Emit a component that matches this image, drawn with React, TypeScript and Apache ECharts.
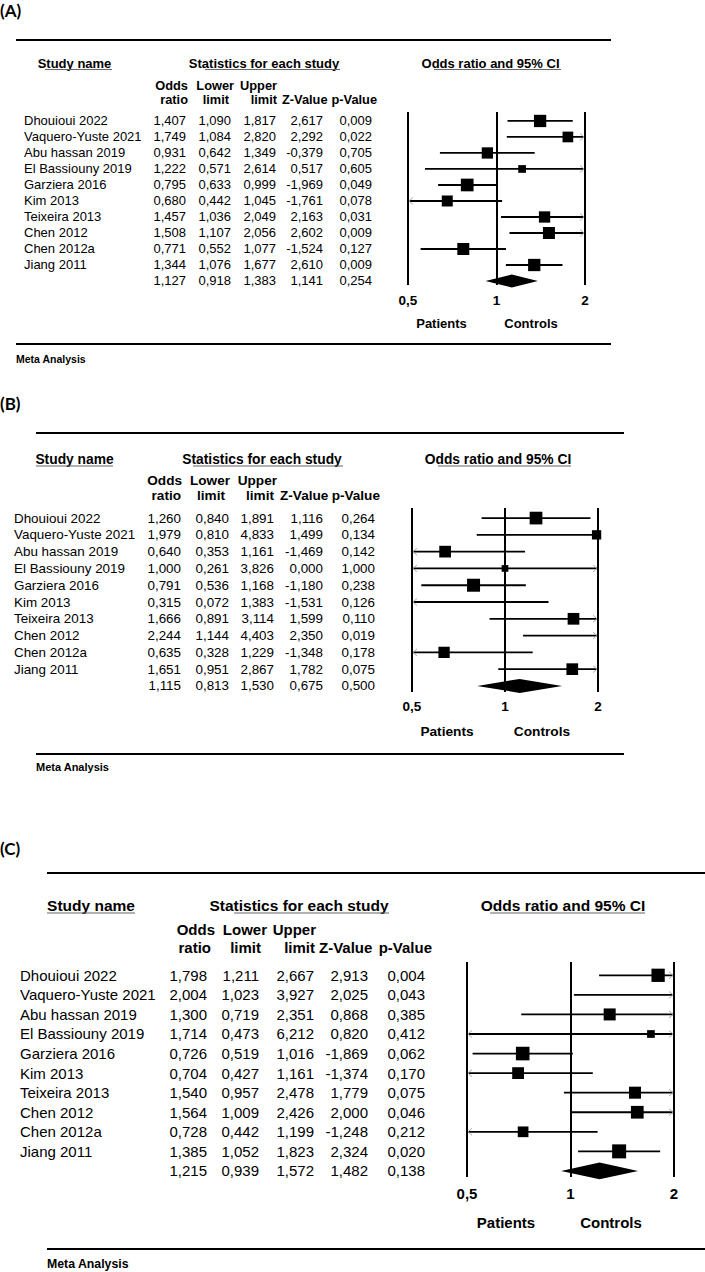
import React, { useEffect, useRef } from "react";
import * as echarts from "echarts";

// ---------------- DATA ----------------
const studyNames = [
  "Dhouioui 2022",
  "Vaquero-Yuste 2021",
  "Abu hassan 2019",
  "El Bassiouny 2019",
  "Garziera 2016",
  "Kim 2013",
  "Teixeira 2013",
  "Chen 2012",
  "Chen 2012a",
  "Jiang 2011",
];

// Panel (A)
const oddsRatioA = [1.407, 1.749, 0.931, 1.222, 0.795, 0.68, 1.457, 1.508, 0.771, 1.344];
const lowerLimitA = [1.09, 1.084, 0.642, 0.571, 0.633, 0.442, 1.036, 1.107, 0.552, 1.076];
const upperLimitA = [1.817, 2.82, 1.349, 2.614, 0.999, 1.045, 2.049, 2.056, 1.077, 1.677];
const zValueA = [2.617, 2.292, -0.379, 0.517, -1.969, -1.761, 2.163, 2.602, -1.524, 2.61];
const pValueA = [0.009, 0.022, 0.705, 0.605, 0.049, 0.078, 0.031, 0.009, 0.127, 0.009];
const weightA = [12.3, 10.7, 11.3, 7.7, 12.7, 11.0, 11.3, 12.0, 12.0, 12.3];
const summaryA = [1.127, 0.918, 1.383, 1.141, 0.254];

// Panel (B)
const oddsRatioB = [1.26, 1.979, 0.64, 1.0, 0.791, 0.315, 1.666, 2.244, 0.635, 1.651];
const lowerLimitB = [0.84, 0.81, 0.353, 0.261, 0.536, 0.072, 0.891, 1.144, 0.328, 0.951];
const upperLimitB = [1.891, 4.833, 1.161, 3.826, 1.168, 1.383, 3.114, 4.403, 1.229, 2.867];
const zValueB = [1.116, 1.499, -1.469, 0.0, -1.18, -1.531, 1.599, 2.35, -1.348, 1.782];
const pValueB = [0.264, 0.134, 0.142, 1.0, 0.238, 0.126, 0.11, 0.019, 0.178, 0.075];
const weightB = [12.7, 9.3, 11.7, 6.7, 13.0, 7.0, 11.7, 9.0, 11.3, 11.7];
const summaryB = [1.115, 0.813, 1.53, 0.675, 0.5];

// Panel (C)
const oddsRatioC = [1.798, 2.004, 1.3, 1.714, 0.726, 0.704, 1.54, 1.564, 0.728, 1.385];
const lowerLimitC = [1.211, 1.023, 0.719, 0.473, 0.519, 0.427, 0.957, 1.009, 0.442, 1.052];
const upperLimitC = [2.667, 3.927, 2.351, 6.212, 1.016, 1.161, 2.478, 2.426, 1.199, 1.823];
const zValueC = [2.913, 2.025, 0.868, 0.82, -1.869, -1.374, 1.779, 2.0, -1.248, 2.324];
const pValueC = [0.004, 0.043, 0.385, 0.412, 0.062, 0.17, 0.075, 0.046, 0.212, 0.02];
const weightC = [13.3, 9.0, 12.0, 7.7, 13.6, 11.8, 12.0, 12.7, 10.7, 14.0];
const summaryC = [1.215, 0.939, 1.572, 1.482, 0.138];

const axisMin = 0.5;
const axisMax = 2;
const panelTags = ["(A)", "(B)", "(C)"];
const columnWords = ["Odds", "ratio", "Lower", "limit", "Upper", "limit", "Z-Value", "p-Value"];
const headerTitles = ["Study name", "Statistics for each study", "Odds ratio and 95% CI"];
const sideLabels = ["Patients", "Controls"];
const footerText = "Meta Analysis";

const panels = [
  { or: oddsRatioA, lo: lowerLimitA, up: upperLimitA, z: zValueA, p: pValueA, w: weightA, s: summaryA },
  { or: oddsRatioB, lo: lowerLimitB, up: upperLimitB, z: zValueB, p: pValueB, w: weightB, s: summaryB },
  { or: oddsRatioC, lo: lowerLimitC, up: upperLimitC, z: zValueC, p: pValueC, w: weightC, s: summaryC },
];

// ---------------- LAYOUT ----------------
const FONT = '"Liberation Sans", Arial, Helvetica, sans-serif';

type ColHead = [number, number, "left" | "right"]; // x, row(1/2), align
const layouts = [
  {
    tagY: 10, x1: 16, x2: 611, topY: 40, botY: 344, metaY: 359, metaFs: 10.5,
    headY: 63, headFs: 13, headCx: [74.5, 264, 490.5], underline: [[45, 112], [205, 340], [434, 561]], ulY: 69.5,
    colY: [85, 99], colFs: 12.8,
    colHeads: [[188, 1, "right"], [188, 2, "right"], [234, 1, "right"], [229, 2, "right"], [277, 1, "right"], [277, 2, "right"], [282, 2, "left"], [377, 2, "right"]] as ColHead[],
    nameX: 24, cols: [186, 231, 276, 323, 372], fs: 13,
    grid: { left: 408, top: 112, width: 177, height: 173 }, yMin: -0.56, yMax: 10.25,
    tickFs: 13.5, tickMargin: 8, legY: 323, legFs: 13, legCx: [441.5, 531], diamondH: 13,
  },
  {
    tagY: 403, x1: 36, x2: 624, topY: 433, botY: 754, metaY: 767, metaFs: 11,
    headY: 459, headFs: 13.8, headCx: [74.5, 262, 498], underline: [[36, 113], [193, 343], [438, 571]], ulY: 466,
    colY: [480, 495], colFs: 13.6,
    colHeads: [[182, 1, "right"], [181, 2, "right"], [230, 1, "right"], [225, 2, "right"], [277, 1, "right"], [274, 2, "right"], [280, 2, "left"], [380, 2, "right"]] as ColHead[],
    nameX: 14, cols: [181, 229, 274, 323, 375], fs: 13.4,
    grid: { left: 412, top: 508, width: 186, height: 184 }, yMin: -0.6, yMax: 10.36,
    tickFs: 13.5, tickMargin: 7.5, legY: 731, legFs: 13.7, legCx: [447, 542], diamondH: 14,
  },
  {
    tagY: 848, x1: 47, x2: 705, topY: 873, botY: 1249, metaY: 1264, metaFs: 12.3,
    headY: 905, headFs: 15.5, headCx: [91, 299, 563], underline: [[47, 135], [234, 389], [490, 645]], ulY: 913,
    colY: [929, 947], colFs: 15,
    colHeads: [[215, 1, "right"], [211, 2, "right"], [267, 1, "right"], [261, 2, "right"], [316, 1, "right"], [315, 2, "right"], [319, 2, "left"], [432, 2, "right"]] as ColHead[],
    nameX: 20, cols: [207, 259, 314, 368, 425], fs: 15,
    grid: { left: 467, top: 962, width: 207, height: 215 }, yMin: -0.68, yMax: 10.31,
    tickFs: 15, tickMargin: 8.5, legY: 1222, legFs: 15, legCx: [506, 611], diamondH: 16.7,
  },
];

const fmt = (v: number) => v.toFixed(3).replace(".", ",");

function textEl(text: string, x: number, y: number, fs: number, align: string, bold: boolean, family = FONT) {
  return {
    type: "text",
    x,
    y,
    silent: true,
    style: {
      text,
      fill: "#000",
      fontSize: fs,
      fontFamily: family,
      fontWeight: bold ? "bold" : "normal",
      align,
      textAlign: align,
      verticalAlign: "middle",
      textVerticalAlign: "middle",
    },
  };
}

function lineEl(x1: number, y1: number, x2: number, y2: number, w: number, color = "#000") {
  return { type: "line", silent: true, shape: { x1, y1, x2, y2 }, style: { stroke: color, lineWidth: w } };
}

function chevron(x: number, y: number, dir: number) {
  return {
    type: "polyline",
    shape: { points: [[x - dir * 4, y - 3.5], [x, y], [x - dir * 4, y + 3.5]] },
    style: { stroke: "#aaaaaa", lineWidth: 1, fill: "none" },
  };
}

function buildOption() {
  const graphics: any[] = [];
  layouts.forEach((L, pi) => {
    graphics.push(textEl(panelTags[pi], 0, L.tagY, 17, "left", true, 'Lato, "Open Sans", sans-serif'));
    graphics.push(lineEl(L.x1, L.topY, L.x2, L.topY, 2));
    headerTitles.forEach((t, k) => {
      graphics.push(textEl(t, L.headCx[k], L.headY, L.headFs, "center", true));
      graphics.push(lineEl(L.underline[k][0], L.ulY, L.underline[k][1], L.ulY, 1.2, "#666"));
    });
    columnWords.forEach((w, k) => {
      const [x, row, align] = L.colHeads[k];
      graphics.push(textEl(w, x, L.colY[row - 1], L.colFs, align, true));
    });
    sideLabels.forEach((t, k) => graphics.push(textEl(t, L.legCx[k], L.legY, L.legFs, "center", true)));
    graphics.push(lineEl(L.x1, L.botY, L.x2, L.botY, 2.2));
    graphics.push(textEl(footerText, L.x1, L.metaY, L.metaFs, "left", true));
  });

  const grids = layouts.map((L) => ({ ...L.grid, containLabel: false, outerBoundsMode: "none" }));
  const xAxes = layouts.map((L, i) => ({
    type: "log",
    logBase: 2,
    min: axisMin,
    max: axisMax,
    interval: 1,
    gridIndex: i,
    axisLine: { show: false },
    axisTick: { show: false },
    splitLine: { show: true, showMinLine: true, showMaxLine: true, lineStyle: { color: "#000", width: 2 } },
    axisLabel: {
      fontSize: L.tickFs,
      fontWeight: "bold",
      fontFamily: FONT,
      color: "#000",
      margin: L.tickMargin,
      formatter: (v: number) => String(+v.toFixed(3)).replace(".", ","),
    },
  }));
  const yAxes = layouts.map((L, i) => ({
    type: "value",
    gridIndex: i,
    min: L.yMin,
    max: L.yMax,
    inverse: true,
    show: false,
    splitLine: { show: false },
  }));

  const series: any[] = [];
  panels.forEach((P, pi) => {
    const L = layouts[pi];
    const rows = studyNames.length;
    const forestData = [...P.or, P.s[0]].map((v, i) => [v, i]);
    series.push({
      type: "custom",
      name: "forest" + pi,
      xAxisIndex: pi,
      yAxisIndex: pi,
      clip: false,
      silent: true,
      data: forestData,
      encode: { x: 0, y: 1 },
      renderItem: (params: any, api: any) => {
        const i = params.dataIndex;
        const isSum = i === rows;
        const or = isSum ? P.s[0] : P.or[i];
        const lo = isSum ? P.s[1] : P.lo[i];
        const hi = isSum ? P.s[2] : P.up[i];
        const y = api.coord([1, i])[1];
        const xl = api.coord([Math.max(lo, axisMin), i])[0];
        const xr = api.coord([Math.min(hi, axisMax), i])[0];
        const xo = api.coord([Math.min(Math.max(or, axisMin), axisMax), i])[0];
        const children: any[] = [];
        if (isSum) {
          const h = L.diamondH / 2;
          children.push({
            type: "polygon",
            shape: { points: [[xl, y], [xo, y - h], [xr, y], [xo, y + h]] },
            style: { fill: "#000" },
          });
        } else {
          children.push({ type: "line", shape: { x1: xl, y1: y, x2: xr, y2: y }, style: { stroke: "#000", lineWidth: 1.8 } });
          if (lo < axisMin) children.push(chevron(xl + 1, y, -1));
          if (hi > axisMax) children.push(chevron(xr - 1, y, 1));
          if (or >= axisMin && or <= axisMax) {
            const s = P.w[i];
            children.push({ type: "rect", shape: { x: xo - s / 2, y: y - s / 2, width: s, height: s }, style: { fill: "#000" } });
          }
        }
        return { type: "group", children };
      },
    });
    series.push({
      type: "custom",
      name: "table" + pi,
      xAxisIndex: pi,
      yAxisIndex: pi,
      clip: false,
      silent: true,
      data: forestData.map((d) => [1, d[1]]),
      encode: { x: 0, y: 1 },
      renderItem: (params: any, api: any) => {
        const i = params.dataIndex;
        const isSum = i === rows;
        const y = api.coord([1, i])[1];
        const vals = isSum ? P.s : [P.or[i], P.lo[i], P.up[i], P.z[i], P.p[i]];
        const children: any[] = [];
        if (!isSum) children.push(textEl(studyNames[i], L.nameX, y, L.fs, "left", false));
        vals.forEach((v, k) => children.push(textEl(fmt(v), L.cols[k], y, L.fs, "right", false)));
        return { type: "group", children };
      },
    });
  });

  return {
    animation: false,
    backgroundColor: "#ffffff",
    grid: grids,
    xAxis: xAxes,
    yAxis: yAxes,
    series,
    graphic: { elements: graphics },
  };
}

export default function App() {
  const ref = useRef<HTMLDivElement>(null);
  useEffect(() => {
    if (!ref.current) return;
    const chart = echarts.init(ref.current, null, { renderer: "svg" });
    chart.setOption(buildOption() as any);
    return () => chart.dispose();
  }, []);
  return (
    <div
      ref={ref}
      style={{ position: "absolute", left: 0, top: 0, width: 705, height: 1272, background: "#fff" }}
    />
  );
}
